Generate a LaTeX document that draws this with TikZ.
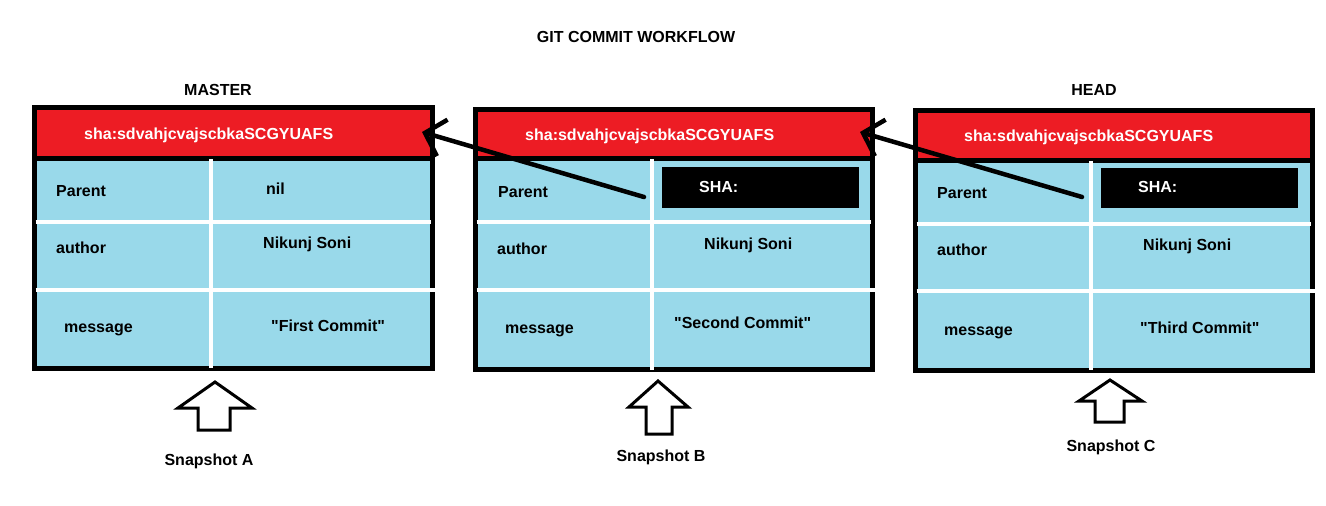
\documentclass[tikz,border=0pt]{standalone}
\usepackage{fontspec}
\setmainfont{Liberation Sans}[Ligatures=TeXOff]
\usetikzlibrary{arrows.meta}
\definecolor{paintred}{RGB}{237,28,36}
\definecolor{paintblue}{RGB}{153,217,234}
\newcommand\commitbox[8]{%
  \fill[paintblue] (#1,#5) rectangle (#2,#4);
  \fill[paintred] (#1,#3) rectangle (#2,#5);
  \draw[black,line width=5pt] (#1-2.5,#5) -- (#2,#5);
  \draw[black,line width=5pt] (#1,#3) rectangle (#2,#4);
  \draw[white,line width=4pt] (#6,#5+1) -- (#6,#4);
  \draw[white,line width=4pt] (#1+1,#7) -- (#2-2,#7);
  \draw[white,line width=4pt] (#1+1,#8) -- (#2+2.5,#8);
}
\begin{document}
\begin{tikzpicture}[x=1pt,y=-1pt,
  txt/.style={font=\bfseries\fontsize{16}{19}\selectfont, inner sep=0pt,
              text height=11.5pt, text depth=0pt, anchor=west},
  wtxt/.style={txt, text=white},
  ctxt/.style={txt, anchor=center},
  conn/.style={line width=4.5pt, line cap=round, line join=round,
               -{Straight Barb[length=18pt,width=38pt]}},
  snap/.style={draw=black, fill=white, line width=3pt, line join=miter}]
\useasboundingbox (0,0) rectangle (1326,506);
\fill[white] (0,0) rectangle (1326,506);

% title and labels
\node[ctxt] (title) at (636,37) {GIT COMMIT WORKFLOW};
\node[ctxt] (master) at (218,90) {MASTER};
\node[ctxt] (head) at (1094,90) {HEAD};

% boxes
\commitbox{34.5}{432.5}{107.5}{368}{158}{210.5}{222}{289.5}
\commitbox{475.5}{872.5}{109.5}{369.5}{158}{652}{222}{290}
\commitbox{915.5}{1312.5}{110}{370}{160}{1091}{224}{291}

% SHA boxes
\fill[black] (662,167) rectangle (859,208);
\fill[black] (1101,168) rectangle (1298,208);

% Box A text
\node[wtxt] (shaA) at (84,134) {sha:sdvahjcvajscbkaSCGYUAFS};
\node[txt] (parA) at (56,191) {Parent};
\node[txt] (nilA) at (266,189) {nil};
\node[txt] (autA) at (56,248) {author};
\node[txt] (nikA) at (263,243) {Nikunj Soni};
\node[txt] (msgA) at (64,327) {message};
\node[txt] (cmtA) at (271,326) {"First Commit"};

% Box B text
\node[wtxt] (shaB) at (525,135) {sha:sdvahjcvajscbkaSCGYUAFS};
\node[txt] (parB) at (498,192) {Parent};
\node[wtxt] (shpB) at (699,187) {SHA:};
\node[txt] (autB) at (497,249) {author};
\node[txt] (nikB) at (704,244) {Nikunj Soni};
\node[txt] (msgB) at (505,328) {message};
\node[txt] (cmtB) at (674,323) {"Second Commit"};

% Box C text
\node[wtxt] (shaC) at (964,136) {sha:sdvahjcvajscbkaSCGYUAFS};
\node[txt] (parC) at (937,193) {Parent};
\node[wtxt] (shpC) at (1138,187) {SHA:};
\node[txt] (autC) at (937,250) {author};
\node[txt] (nikC) at (1143,245) {Nikunj Soni};
\node[txt] (msgC) at (944,330) {message};
\node[txt] (cmtC) at (1140,328) {"Third Commit"};

% parent connectors
\coordinate (tipA) at (422,132);
\coordinate (fromB) at (644,197);
\coordinate (tipB) at (860,132);
\coordinate (fromC) at (1082,197);
\draw[conn] (fromB) -- (tipA);
\draw[conn] (fromC) -- (tipB);

% snapshot arrows
\draw[snap] (215,382) -- (252,408) -- (230,408) -- (230,430) -- (198,430) -- (198,408) -- (178,408) -- cycle;
\draw[snap] (658,381) -- (688,407) -- (672,407) -- (672,434) -- (646,434) -- (646,407) -- (629,407) -- cycle;
\draw[snap] (1110,380) -- (1142,401) -- (1124,401) -- (1124,422) -- (1095,422) -- (1095,401) -- (1079,401) -- cycle;

\node[ctxt] (snapA) at (209,460) {Snapshot A};
\node[ctxt] (snapB) at (661,456) {Snapshot B};
\node[ctxt] (snapC) at (1111,446) {Snapshot C};
\end{tikzpicture}
\end{document}
